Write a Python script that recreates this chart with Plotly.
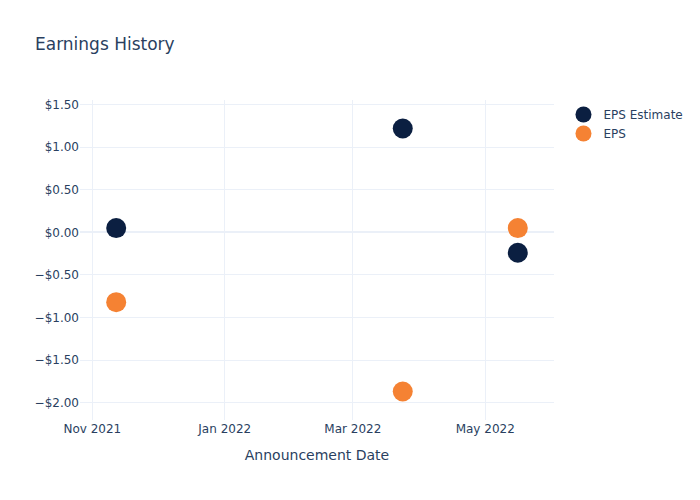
import plotly.graph_objects as go

dates = ["2021-11-12", "2022-03-24", "2022-05-16"]
eps_estimate = [0.05, 1.22, -0.24]
eps_actual = [-0.82, -1.87, 0.05]

fig = go.Figure()
fig.add_trace(go.Scatter(x=dates, y=eps_estimate, mode="markers", name="EPS Estimate",
                         marker=dict(color="#0b1f41", size=20)))
fig.add_trace(go.Scatter(x=dates, y=eps_actual, mode="markers", name="EPS",
                         marker=dict(color="#f58233", size=20)))
fig.update_layout(
    template="plotly_white",
    width=700, height=500,
    font=dict(family="DejaVu Sans"),
    title=dict(text="Earnings History"),
    xaxis=dict(title=dict(text="Announcement Date")),
    yaxis=dict(tickformat="$.2f"),
)
fig.write_html("out.html", config={"displayModeBar": False},
               post_script="document.body.style.margin='0';")
